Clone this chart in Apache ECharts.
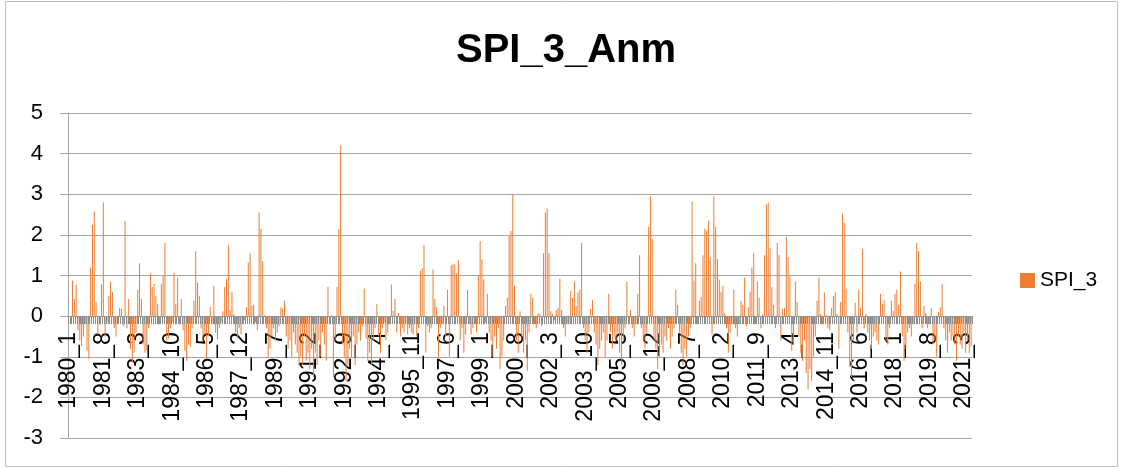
<!DOCTYPE html>
<html lang="en">
<head>
  <meta charset="UTF-8">
  <title>SPI_3_Anm</title>
  <script src="https://cdn.jsdelivr.net/npm/echarts@6/dist/echarts.min.js"></script>
  <style>
    * { margin: 0; padding: 0; }
    body { background: #fff; }
    #chart { width: 1121px; height: 468px; }
  </style>
</head>
<body>
  <div id="chart"></div>
  <script>
    // monthly SPI_3, one row per year, starting 1980_1
    const startYear = 1980
    const spi3 = [
      0, 0, 0.87, 0.42, 0.77, -0.35, -0.6, -0.75, -0.5, -0.2, -0.85, -1.05,        // 1980
      1.2, 2.25, 2.58, 0.35, -0.45, -0.2, 0.78, 2.8, -0.5, -0.15, 0.5, 0.85,        // 1981
      0.6, -0.3, -0.5, -0.2, 0.2, 0.18, -0.25, 2.35, -0.3, 0.42, -0.8, -1.15,       // 1982
      -0.9, -0.4, 0.65, 1.3, 0.42, -0.7, -0.9, -0.85, -0.3, 1.05, 0.72, 0.8,        // 1983
      0.5, 0.3, -0.2, 0.8, 1.0, 1.8, -0.6, -0.55, -0.3, -0.15, 1.07, 0.3,           // 1984
      0.95, -0.2, 0.42, -0.35, -0.85, -1.1, -0.7, -0.75, -0.3, 0.38, 1.6, 0.83,     // 1985
      0.5, -0.3, -0.6, -0.45, -1.05, -0.5, 0.23, -0.2, 0.75, -0.4, -0.57, -0.3,     // 1986
      -0.15, 0.12, 0.72, 0.92, 1.75, 0.15, 0.6, 0.05, -0.4, -0.55, -0.3, -0.45,     // 1987
      -0.2, -0.1, 0.22, 1.32, 1.55, 0.25, 0.28, -0.15, -0.35, 2.55, 2.15, 1.35,     // 1988
      0.02, -0.3, -1.0, -0.8, -0.5, -0.3, -0.6, -0.4, -0.25, 0.22, 0.18, 0.38,      // 1989
      -0.5, -0.8, -0.6, -1.0, -0.4, -0.7, -0.9, -1.2, -1.0, -1.2, -0.5, -1.1,       // 1990
      -0.9, -1.3, -0.8, -1.5, -0.9, -1.2, -0.6, -1.0, -0.4, -0.7, -1.1, 0.72,       // 1991
      -0.2, 0.03, -1.5, -0.6, 0.72, 2.15, 4.2, -0.7, -1.0, -1.6, -1.2, -0.8,        // 1992
      -1.0, -0.5, -1.2, -0.7, -0.4, -0.6, -0.25, 0.68, -0.55, -1.1, -0.9, -1.2,     // 1993
      -0.6, -0.3, 0.3, -0.5, -0.9, -0.3, -0.15, -0.6, -0.4, -0.2, 0.78, 0.13,       // 1994
      0.42, -0.4, 0.08, -0.5, -0.3, -0.4, -0.2, -0.45, -0.3, -0.4, -0.45, -0.2,     // 1995
      -0.5, -0.3, 1.12, 1.18, 1.75, -0.9, -0.25, -0.4, -0.3, 1.15, 0.42, 0.22,      // 1996
      -1.0, -0.3, -0.2, 0.25, -0.5, 0.65, -1.0, 1.25, 1.28, 1.28, 1.05, 1.38,       // 1997
      -0.6, -0.3, -0.9, -0.45, 0.65, -0.2, -0.45, -0.3, -0.15, -0.4, 1.0, 1.85,     // 1998
      1.4, 0.9, -0.15, 0.55, -0.4, -0.6, -1.0, -0.5, -0.8, -0.3, -1.3, -1.0,        // 1999
      -0.6, 0.25, 0.45, 2.0, 2.1, 3.0, 0.75, -0.6, -0.9, 0.12, -0.5, -0.9,          // 2000
      -0.6, -1.35, -0.4, 0.55, 0.45, -0.2, -0.3, 0.08, 0.05, -0.25, 1.55, 2.55,     // 2001
      2.65, 1.55, 0.12, 0.05, -0.1, 0.15, 0.2, 0.92, 0.15, -0.3, -0.5, -0.2,        // 2002
      -0.2, 0.62, 0.45, 0.85, 0.25, 0.58, 0.65, 1.8, -0.3, -0.6, -0.9, -0.4,        // 2003
      0.18, 0.4, -0.4, -0.7, -1.2, -0.8, -0.6, -0.4, -1.0, -0.6, 0.55, -0.4,        // 2004
      -0.8, -0.5, -0.6, -0.4, -0.9, -1.2, -0.6, -0.3, 0.85, -0.2, 0.15, -0.3,       // 2005
      -0.5, -0.2, 0.55, 1.5, -0.3, -0.6, -0.8, -0.4, 2.2, 2.95, 1.9, -0.6,          // 2006
      -0.8, -1.3, -1.0, -0.7, -0.9, -0.5, -0.6, -0.3, -0.8, -0.5, -0.3, 0.65,       // 2007
      0.28, -0.4, -0.9, -1.2, -0.8, -1.0, -0.5, -0.3, 2.82, 0.88, 1.3, -0.2,        // 2008
      0.38, 0.48, 1.5, 2.15, 2.1, 2.35, 1.45, -0.45, 2.95, 2.2, 1.4, 0.9,           // 2009
      0.6, 0.75, 0.08, -0.3, -0.9, -0.4, -0.2, 0.65, -0.3, -0.5, -0.2, 0.38,        // 2010
      0.28, 0.95, -0.25, 0.22, 0.6, 1.2, 1.55, -0.2, 0.85, 0.45, -0.3, 0.05,        // 2011
      1.5, 2.75, 2.8, 1.68, 0.72, 0.28, -0.3, 1.8, 1.5, -0.6, 0.18, 0.2,            // 2012
      1.95, 1.45, 0.98, -0.85, -0.7, 0.85, 0.35, -0.5, -0.9, -1.1, -0.6, -1.4,      // 2013
      -1.8, -1.3, -1.6, -1.0, -0.5, 0.38, 0.95, 0.05, -0.2, 0.58, 0.02, -0.3,       // 2014
      -0.35, 0.2, 0.5, 0.6, 0.05, -0.8, 0.35, 2.52, 2.3, 0.68, -0.4, -1.25,         // 2015
      -1.5, -0.6, 0.33, -0.4, 0.65, 0.2, 1.65, -0.3, 0.05, -0.4, -0.6, -0.8,        // 2016
      -0.5, -0.4, -0.6, -0.7, 0.55, 0.3, 0.4, -0.6, -0.7, -0.3, 0.38, 0.12,         // 2017
      0.55, 0.65, 0.28, 1.1, -0.5, -1.1, -0.8, -0.4, -0.3, -0.5, -0.2, 0.8,         // 2018
      1.8, 1.6, 0.85, -0.3, 0.25, 0.08, -0.3, -0.2, 0.2, -0.7, -0.6, -1.0,          // 2019
      0.1, 0.22, 0.8, -0.3, -0.6, -0.9, -0.4, -0.6, -0.5, -0.7, -1.1, -0.5,         // 2020
      -0.7, -0.8, -0.4, -0.9, -0.6, -0.9, -0.75                                     // 2021
    ]
    const months = []
    for (let i = 0; i < spi3.length; i++) {
      months.push((startYear + Math.floor(i / 12)) + '_' + (i % 12 + 1))
    }
    const yMin = -3
    const yMax = 5
    const yStep = 1

    const font = 'Liberation Sans'
    const gridColor = '#a6a6a6'

    // plot area, px
    const gridTop = 113
    const gridBottom = 30
    const plotH = 468 - gridTop - gridBottom
    // labels hang under the zero line, so the label axis is lifted up to it
    const zeroOffset = -plotH * (0 - yMin) / (yMax - yMin)

    var myChart = echarts.init(document.getElementById('chart'), null, { renderer: 'canvas' })
    var option = {
      animation: false,
      title: {
        text: 'SPI_3_Anm',
        left: 451,
        top: 26,
        textStyle: { fontFamily: font, fontSize: 40, fontWeight: 'bold', color: '#000' }
      },
      legend: {
        data: ['SPI_3'],
        left: 1015,
        top: 265,
        icon: 'rect',
        itemWidth: 15,
        itemHeight: 15,
        itemGap: 7,
        textStyle: { fontFamily: font, fontSize: 21, color: '#000' }
      },
      grid: { left: 68, right: 149, top: gridTop, bottom: gridBottom, containLabel: false, outerBoundsMode: 'none' },
      xAxis: [{
        type: 'category',
        data: months,
        z: 5,
        axisLine: { onZero: true, lineStyle: { color: '#999', width: 1 } },
        axisTick: { show: true, interval: 0, length: 8, lineStyle: { color: '#8c8c8c' } },
        axisLabel: { show: false },
        splitLine: { show: false }
      }, {
        type: 'category',
        data: months,
        position: 'bottom',
        offset: zeroOffset,
        axisLine: { show: false, onZero: false },
        axisTick: { show: false },
        axisLabel: { interval: 18, rotate: 90, margin: 16, fontFamily: font, fontSize: 23, color: '#000' },
        splitLine: { show: false }
      }],
      yAxis: {
        type: 'value',
        min: yMin,
        max: yMax,
        interval: yStep,
        axisLine: { show: true, lineStyle: { color: gridColor } },
        axisTick: { show: true, length: 8, lineStyle: { color: gridColor } },
        axisLabel: { margin: 25, fontFamily: font, fontSize: 22, color: '#000' },
        splitLine: { lineStyle: { color: gridColor, width: 1 } }
      },
      graphic: [{
        type: 'rect',
        shape: { x: 5.5, y: 1.5, width: 1112, height: 465 },
        style: { fill: null, stroke: '#bfbfbf', lineWidth: 1 },
        silent: true
      }],
      series: [{
        name: 'SPI_3',
        type: 'bar',
        data: spi3,
        barWidth: '40%',
        itemStyle: { color: '#ED7D31' }
      }]
    }
    myChart.setOption(option)
  </script>
</body>
</html>
